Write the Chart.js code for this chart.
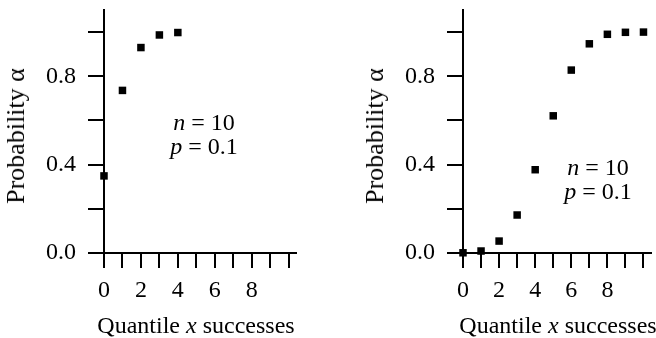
<!DOCTYPE html>
<html>
<head>
<meta charset="utf-8">
<script src="https://cdn.jsdelivr.net/npm/chart.js@4/dist/chart.umd.min.js"></script>
<style>
  body { margin: 0; background: #fff; }
  #wrap { position: relative; width: 656px; height: 338px; overflow: hidden; font-family: 'Liberation Serif', serif; color: #000; }
  canvas { position: absolute; top: 0; }
  .xt { position: absolute; top: 313px; width: 200px; font-size: 24px; line-height: 1; text-align: center; white-space: nowrap; }
  .yt { position: absolute; top: 136px; font-size: 26px; line-height: 1; white-space: nowrap; transform: translate(-50%, -50%) rotate(-90deg); }
  .note { position: absolute; width: 80px; font-size: 24px; line-height: 24px; text-align: center; white-space: nowrap; }
</style>
</head>
<body>
<div id="wrap">
  <canvas id="leftChart" width="328" height="338" style="left:0"></canvas>
  <canvas id="rightChart" width="328" height="338" style="left:328px"></canvas>
  <div class="yt" style="left:16px;">Probability α</div>
  <div class="yt" style="left:375px;">Probability α</div>
  <div class="xt" style="left:96px;">Quantile <i>x</i> successes</div>
  <div class="xt" style="left:458px;">Quantile <i>x</i> successes</div>
  <div class="note" style="left:164px; top:110px;"><i>n</i> = 10<br><i>p</i> = 0.1</div>
  <div class="note" style="left:558px; top:155px;"><i>n</i> = 10<br><i>p</i> = 0.1</div>
</div>
<script>
// left panel
const leftX = [0, 1, 2, 3, 4];
const leftY = [0.349, 0.736, 0.930, 0.987, 0.998];

// right panel
const rightX = [0, 1, 2, 3, 4, 5, 6, 7, 8, 9, 10];
const rightY = [0.001, 0.009, 0.054, 0.172, 0.377, 0.621, 0.828, 0.947, 0.990, 0.999, 1.0];

// axes
const xTickValues = [0, 1, 2, 3, 4, 5, 6, 7, 8, 9, 10];
const xTickLabels = ['0', '', '2', '', '4', '', '6', '', '8', '', ''];
const yTickValues = [0, 0.2, 0.4, 0.6, 0.8, 1.0];
const yTickLabels = ['0.0', '', '0.4', '', '0.8', ''];

const tickFont = { family: 'Liberation Serif', size: 24 };

function makeChart(id, xs, ys, yAxisWidth) {
    const ctx = document.getElementById(id).getContext('2d');
    return new Chart(ctx, {
        type: 'scatter',
        data: {
            datasets: [{
                data: xs.map((x, i) => ({ x: x, y: ys[i] })),
                backgroundColor: '#000',
                borderWidth: 0,
                pointStyle: 'rect',
                pointRadius: 5.3,
                clip: false
            }]
        },
        options: {
            responsive: false,
            animation: false,
            events: [],
            layout: { padding: { top: 10, right: 328 - yAxisWidth - 192, left: 0, bottom: 0 } },
            plugins: { legend: { display: false }, tooltip: { enabled: false } },
            scales: {
                x: {
                    type: 'linear',
                    min: 0,
                    max: 10.4,
                    afterBuildTicks: s => { s.ticks = xTickValues.map(v => ({ value: v })); },
                    afterFit: s => { s.height = 85; s.paddingLeft = 0; s.paddingRight = 0; },
                    ticks: {
                        font: tickFont,
                        color: '#000',
                        padding: 8,
                        maxRotation: 0,
                        autoSkip: false,
                        callback: (v, i) => xTickLabels[i]
                    },
                    grid: { drawOnChartArea: false, tickLength: 15, color: '#000', lineWidth: 2 },
                    border: { color: '#000', width: 2 }
                },
                y: {
                    type: 'linear',
                    min: 0,
                    max: 1.1,
                    afterBuildTicks: s => { s.ticks = yTickValues.map(v => ({ value: v })); },
                    afterFit: s => { s.width = yAxisWidth; s.paddingTop = 0; s.paddingBottom = 0; },
                    ticks: {
                        font: tickFont,
                        color: '#000',
                        padding: 12,
                        callback: (v, i) => yTickLabels[i]
                    },
                    grid: { drawOnChartArea: false, tickLength: 16, color: '#000', lineWidth: 2 },
                    border: { color: '#000', width: 2 }
                }
            }
        }
    });
}

makeChart('leftChart', leftX, leftY, 104);
makeChart('rightChart', rightX, rightY, 135);
</script>
</body>
</html>
